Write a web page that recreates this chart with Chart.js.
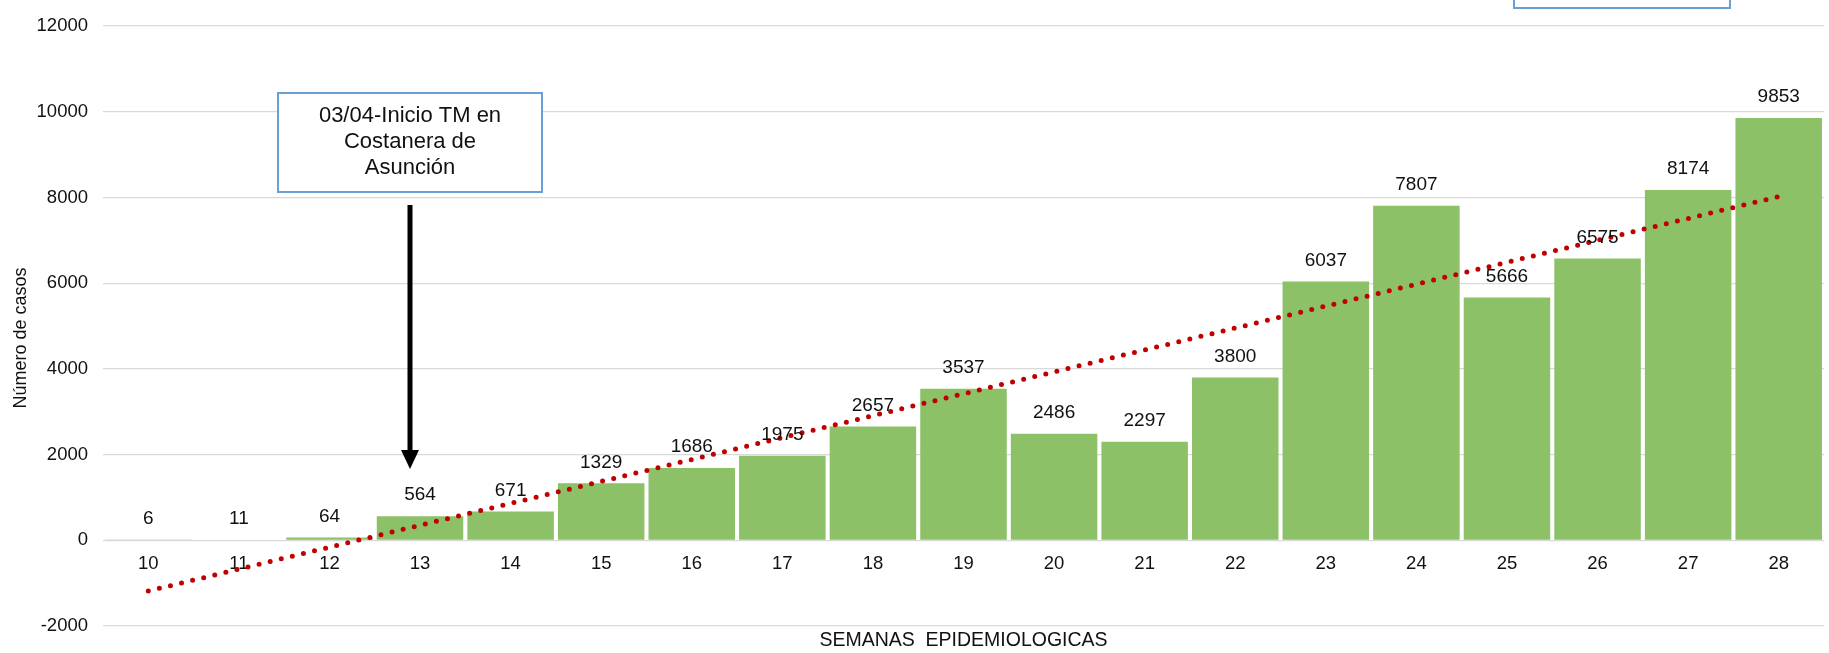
<!DOCTYPE html>
<html>
<head>
<meta charset="utf-8">
<script src="https://cdn.jsdelivr.net/npm/chart.js@4/dist/chart.umd.min.js"></script>
<style>
  html, body { margin: 0; padding: 0; background: #fff; }
  #wrap { width: 1829px; height: 653px; position: relative; }
</style>
</head>
<body>
<div id="wrap"><canvas id="myChart"></canvas></div>
<script>
// ====== DATA ======
const weeks = ["10", "11", "12", "13", "14", "15", "16", "17", "18", "19", "20", "21", "22", "23", "24", "25", "26", "27", "28"];
const cases = [6, 11, 64, 564, 671, 1329, 1686, 1975, 2657, 3537, 2486, 2297, 3800, 6037, 7807, 5666, 6575, 8174, 9853];
// linear trend, read at first and last week
const trendWeeks = ["10", "28"];
const trendValues = [-1184, 8022];
const yTicks = [-2000, 0, 2000, 4000, 6000, 8000, 10000, 12000];
const yTitle = "Número de casos";
const xTitle = "SEMANAS  EPIDEMIOLOGICAS";
const noteLines = ["03/04-Inicio TM en", "Costanera de", "Asunción"];

const FONT = "Arial, 'Liberation Sans', sans-serif";
const TEXT = "#111";

document.addEventListener("DOMContentLoaded", function () {
  const ctx = document.getElementById("myChart");

  // value labels over the bars
  const barLabels = {
    id: "barLabels",
    afterDatasetsDraw(chart) {
      const meta = chart.getDatasetMeta(1);
      const c = chart.ctx;
      c.save();
      c.font = "19px " + FONT;
      c.fillStyle = TEXT;
      c.textAlign = "center";
      c.textBaseline = "middle";
      meta.data.forEach(function (bar, i) {
        c.fillText(String(cases[i]), bar.x, bar.y - 21);
      });
      c.restore();
    }
  };

  // titles, note box, arrow, cut box top right
  const extras = {
    id: "extras",
    afterDraw(chart) {
      const c = chart.ctx;
      const area = chart.chartArea;
      c.save();

      // y title
      c.font = "18px " + FONT;
      c.fillStyle = TEXT;
      c.translate(26, 338);
      c.rotate(-Math.PI / 2);
      c.textAlign = "center";
      c.textBaseline = "alphabetic";
      c.fillText(yTitle, 0, 0);
      c.setTransform(1, 0, 0, 1, 0, 0);

      // x title
      c.font = "19.5px " + FONT;
      c.textAlign = "center";
      c.textBaseline = "middle";
      c.fillText(xTitle, (area.left + area.right) / 2, 641);

      // note box
      c.fillStyle = "#fff";
      c.fillRect(278, 93, 264, 99);
      c.strokeStyle = "#6a9fd6";
      c.lineWidth = 2;
      c.strokeRect(278, 93, 264, 99);
      c.fillStyle = TEXT;
      c.font = "22px " + FONT;
      noteLines.forEach(function (t, i) {
        c.fillText(t, 410, 116 + i * 26);
      });

      // arrow
      c.fillStyle = "#000";
      c.fillRect(407.5, 205, 5, 247);
      c.beginPath();
      c.moveTo(401, 450);
      c.lineTo(419, 450);
      c.lineTo(410, 469);
      c.closePath();
      c.fill();

      // box cut off at top right
      c.fillStyle = "#fff";
      c.fillRect(1514, -10, 216, 18);
      c.strokeStyle = "#6a9fd6";
      c.lineWidth = 2;
      c.strokeRect(1514, -10, 216, 18);

      c.restore();
    }
  };

  new Chart(ctx, {
    data: {
      labels: weeks,
      datasets: [
        {
          type: "line",
          label: "Tendencia",
          data: trendWeeks.map(function (w, i) { return { x: w, y: trendValues[i] }; }),
          borderColor: "#c00000",
          borderWidth: 5,
          borderDash: [0, 11.4],
          borderCapStyle: "round",
          pointRadius: 0,
          fill: false,
          order: 0
        },
        {
          type: "bar",
          label: "Casos",
          data: cases,
          backgroundColor: "#8cc168",
          barPercentage: 1,
          categoryPercentage: 0.955,
          order: 1
        }
      ]
    },
    options: {
      responsive: true,
      maintainAspectRatio: false,
      animation: false,
      layout: { padding: { top: 20, right: 5, bottom: 27, left: 0 } },
      plugins: {
        legend: { display: false },
        tooltip: { enabled: false }
      },
      scales: {
        x: {
          type: "category",
          position: { y: 0 },
          offset: true,
          grid: { display: false, drawTicks: false },
          border: { display: false },
          ticks: {
            color: TEXT,
            font: { family: FONT, size: 18.5 },
            padding: 13,
            maxRotation: 0,
            autoSkip: false
          }
        },
        y: {
          min: -2000,
          max: 12000,
          afterFit: function (scale) { scale.width = 103; },
          afterBuildTicks: function (scale) {
            scale.ticks = yTicks.map(function (v) { return { value: v }; });
          },
          grid: { color: "#d9d9d9", lineWidth: 1.3, drawTicks: false },
          border: { display: false },
          ticks: {
            color: TEXT,
            font: { family: FONT, size: 18.5 },
            padding: 15,
            callback: function (v) { return String(v); }
          }
        }
      }
    },
    plugins: [barLabels, extras]
  });
});
</script>
</body>
</html>
